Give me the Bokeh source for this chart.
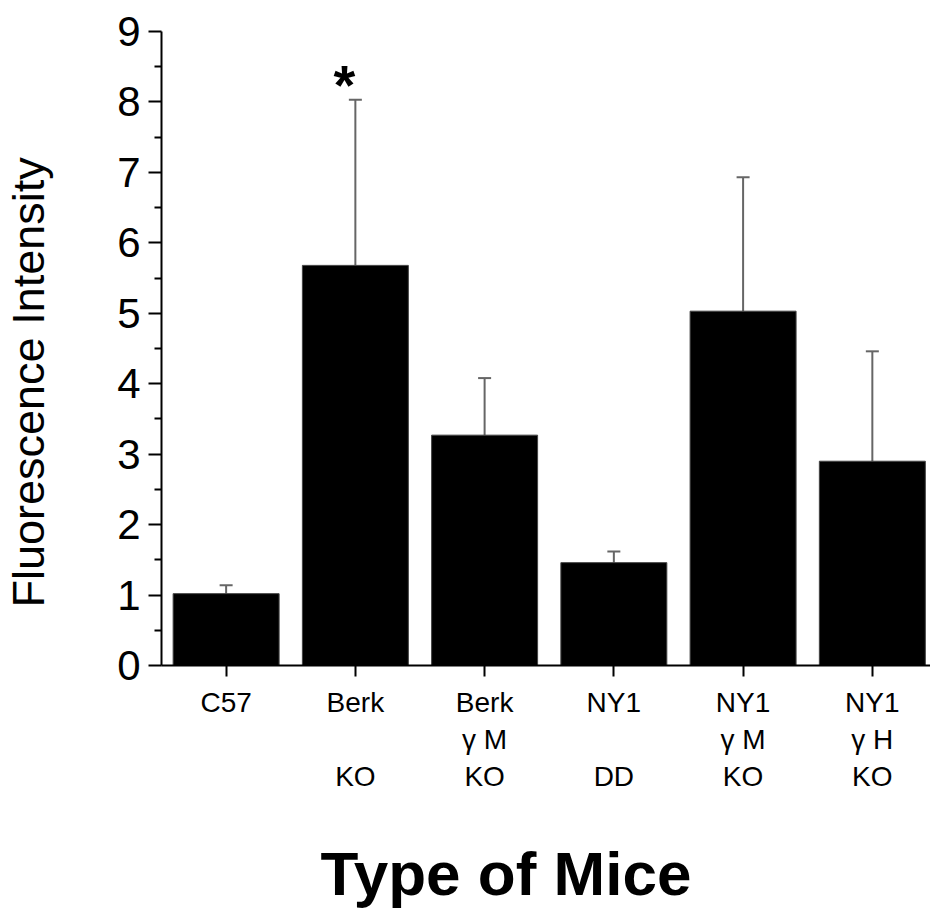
from bokeh.plotting import figure
from bokeh.models import Range1d, FixedTicker, ColumnDataSource, Whisker, TeeHead, Title
from bokeh.core.properties import value
from bokeh.embed import file_html
from bokeh.resources import INLINE

# ---- data ----
categories = ["C57", "Berk\n \nKO", "Berk\nγ M\nKO", "NY1\n \nDD", "NY1\nγ M\nKO", "NY1\nγ H\nKO"]
means = [1.02, 5.68, 3.27, 1.46, 5.03, 2.90]
upper_err = [1.14, 8.03, 4.08, 1.62, 6.93, 4.46]
marks = ["", "*", "", "", "", ""]
y_major = [0, 1, 2, 3, 4, 5, 6, 7, 8, 9]
y_minor = [0.5, 1.5, 2.5, 3.5, 4.5, 5.5, 6.5, 7.5, 8.5]
y_title = "Fluorescence Intensity"
x_title = "Type of Mice"

FONT = "Liberation Sans"
xpos = list(range(len(categories)))

src = ColumnDataSource(dict(x=xpos, top=means, upper=upper_err, lower=means, mark=marks))

p = figure(width=930, height=912, output_backend="svg", toolbar_location=None,
           x_range=Range1d(-0.5, 5.45), y_range=Range1d(0, 9),
           min_border_left=160, min_border_right=0, min_border_top=31, min_border_bottom=247)
p.outline_line_color = None
p.xgrid.visible = False
p.ygrid.visible = False
p.background_fill_color = "white"
p.border_fill_color = "white"

p.vbar(x="x", top="top", width=0.82, bottom=0, source=src,
       fill_color="black", line_color="#444444", line_width=1)

wh = Whisker(base="x", upper="upper", lower="lower", source=src,
             upper_head=TeeHead(size=13, line_color="#666666", line_width=2),
             lower_head=None, line_color="#666666", line_width=2)
p.add_layout(wh)

p.text(x="x", y="upper", text="mark", source=src, x_offset=-11, y_offset=16,
       text_font=value(FONT), text_font_style="bold", text_font_size="56px",
       text_align="center", text_baseline="bottom", text_color="black")

# y axis
ya = p.yaxis[0]
ya.ticker = FixedTicker(ticks=y_major, minor_ticks=y_minor)
ya.axis_line_width = 2
ya.major_tick_line_width = 2
ya.minor_tick_line_width = 2
ya.major_tick_out = 13
ya.major_tick_in = 0
ya.minor_tick_out = 7
ya.minor_tick_in = 0
ya.major_label_text_font = FONT
ya.major_label_text_font_size = "42px"
ya.major_label_text_color = "black"
ya.major_label_standoff = 8
# blank spacer label: pushes the axis title outward
ya.axis_label = " "
ya.axis_label_text_font_size = "1px"
ya.axis_label_standoff = 57

# x axis
xa = p.xaxis[0]
xa.ticker = FixedTicker(ticks=xpos, minor_ticks=[])
xa.major_label_overrides = {i: c for i, c in zip(xpos, categories)}
xa.axis_line_width = 2
xa.major_tick_line_width = 2
xa.major_tick_out = 11
xa.major_tick_in = 0
xa.minor_tick_line_color = None
xa.major_label_text_font = FONT
xa.major_label_text_font_size = "28px"
xa.major_label_text_color = "black"
xa.major_label_standoff = 10
xa.axis_label = " "
xa.axis_label_text_font_size = "1px"
xa.axis_label_standoff = 37

yt = Title(text=y_title, align="left", text_font=FONT, text_font_size="45px",
           text_font_style="normal", text_color="black", offset=58, standoff=0)
p.add_layout(yt, "left")

xt = Title(text=x_title, align="left", text_font=FONT, text_font_size="62px",
           text_font_style="bold", text_color="black", offset=159, standoff=0)
p.add_layout(xt, "below")

open("out.html", "w").write(file_html(p, INLINE))
